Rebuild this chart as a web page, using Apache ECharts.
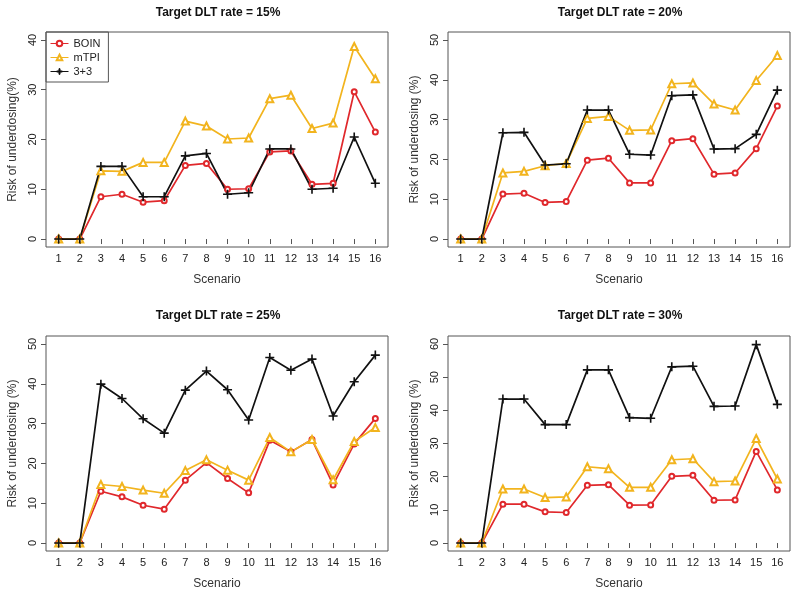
<!DOCTYPE html>
<html>
<head>
<meta charset="utf-8">
<script src="https://cdn.jsdelivr.net/npm/echarts@6/dist/echarts.min.js"></script>
<style>
html,body{margin:0;padding:0;background:#fff;}
#chart{width:800px;height:596px;}
</style>
</head>
<body>
<div id="chart"></div>
<script>
const scenarios = [1,2,3,4,5,6,7,8,9,10,11,12,13,14,15,16];
const panelTitles = ['Target DLT rate = 15%','Target DLT rate = 20%','Target DLT rate = 25%','Target DLT rate = 30%'];
const yAxisNames = ['Risk of underdosing(%)','Risk of underdosing (%)','Risk of underdosing (%)','Risk of underdosing (%)'];
const seriesNames = ['BOIN','mTPI','3+3'];
const yTicks15 = [0,10,20,30,40];
const yTicks20 = [0,10,20,30,40,50];
const yTicks25 = [0,10,20,30,40,50];
const yTicks30 = [0,10,20,30,40,50,60];

const boin15 = [0,0,8.5,9.0,7.4,7.7,14.8,15.2,10.0,10.1,17.5,17.7,11.0,11.2,29.6,21.5];
const mtpi15 = [0,0,13.7,13.6,15.4,15.4,23.7,22.7,20.1,20.3,28.2,28.9,22.2,23.3,38.7,32.2];
const tpt15  = [0,0,14.6,14.6,8.5,8.5,16.7,17.2,9.0,9.3,18.1,18.1,10.0,10.2,20.5,11.2];

const boin20 = [0,0,11.3,11.5,9.2,9.4,19.8,20.3,14.1,14.1,24.7,25.2,16.3,16.6,22.7,33.4];
const mtpi20 = [0,0,16.6,17.0,18.4,19.0,30.3,30.8,27.3,27.4,39.0,39.2,33.9,32.4,39.8,46.1];
const tpt20  = [0,0,26.7,26.8,18.6,18.9,32.4,32.4,21.3,21.1,36.0,36.2,22.6,22.7,26.3,37.4];

const boin25 = [0,0,13.0,11.6,9.5,8.5,15.8,20.2,16.2,12.6,25.8,22.9,26.0,14.6,24.9,31.3];
const mtpi25 = [0,0,14.7,14.2,13.3,12.5,18.2,20.9,18.3,15.8,26.5,22.9,26.0,15.9,25.5,29.0];
const tpt25  = [0,0,39.9,36.3,31.2,27.6,38.4,43.2,38.5,30.9,46.6,43.4,46.2,31.9,40.5,47.2];

const boin30 = [0,0,11.7,11.7,9.4,9.2,17.4,17.6,11.4,11.5,20.1,20.4,12.9,13.0,27.6,16.0];
const mtpi30 = [0,0,16.3,16.3,13.7,13.9,23.0,22.4,16.8,16.8,25.1,25.4,18.5,18.7,31.5,19.3];
const tpt30  = [0,0,43.4,43.4,35.7,35.7,52.2,52.2,37.8,37.6,53.1,53.3,41.2,41.3,59.8,41.8];

const panels = [
  {b: boin15, m: mtpi15, t: tpt15, ticks: yTicks15},
  {b: boin20, m: mtpi20, t: tpt20, ticks: yTicks20},
  {b: boin25, m: mtpi25, t: tpt25, ticks: yTicks25},
  {b: boin30, m: mtpi30, t: tpt30, ticks: yTicks30}
];

const FONT = "'Liberation Sans', Arial, Helvetica, sans-serif";
const RED = '#e0282c';
const ORANGE = '#f2b41e';
const BLACK = '#111111';
const BOX = '#555555';
const PLUS = 'path://M4.1,0h1.8v10h-1.8z M0,4.1h10v1.8h-10z';

const gridPos = [
  {left: 46, top: 32, width: 342, height: 215},
  {left: 448, top: 32, width: 342, height: 215},
  {left: 46, top: 336, width: 342, height: 215},
  {left: 448, top: 336, width: 342, height: 215}
];
const titlePos = [[218,7],[620,7],[218,310],[620,310]];

const toPairs = arr => scenarios.map((s, i) => [s, arr[i]]);

const grids = [], xAxes = [], yAxes = [], series = [], titles = [];
panels.forEach((p, k) => {
  grids.push(Object.assign({show: true, borderColor: BOX, borderWidth: 1, backgroundColor: 'transparent'}, gridPos[k]));
  const yMax = p.ticks[p.ticks.length - 1];
  const pad = yMax * 0.04;
  xAxes.push({
    type: 'value', gridIndex: k, min: 0.4, max: 16.6,
    name: 'Scenario', nameLocation: 'middle', nameGap: 27,
    nameTextStyle: {fontFamily: FONT, fontSize: 12, color: '#333'},
    axisLine: {show: false},
    splitLine: {show: false},
    axisTick: {show: true, length: 5, inside: false, customValues: scenarios, lineStyle: {color: BOX}},
    axisLabel: {customValues: scenarios, margin: 6, fontFamily: FONT, fontSize: 11, color: '#222'}
  });
  yAxes.push({
    type: 'value', gridIndex: k, min: -pad, max: yMax + pad,
    name: yAxisNames[k], nameLocation: 'middle', nameGap: 27,
    nameTextStyle: {fontFamily: FONT, fontSize: 12, color: '#333'},
    axisLine: {show: false},
    splitLine: {show: false},
    axisTick: {show: true, length: 5, customValues: p.ticks, lineStyle: {color: BOX}},
    axisLabel: {customValues: p.ticks, rotate: 90, margin: 8, fontFamily: FONT, fontSize: 11, color: '#222', align: 'center', verticalAlign: 'bottom'}
  });
  titles.push({
    text: panelTitles[k], left: titlePos[k][0], top: titlePos[k][1], textAlign: 'center', padding: 0,
    textStyle: {fontFamily: FONT, fontSize: 12, fontWeight: 'bold', color: '#111'}
  });
  const defs = [
    {name: 'BOIN', data: p.b, color: RED, symbol: 'emptyCircle', size: 5},
    {name: 'mTPI', data: p.m, color: ORANGE, symbol: 'emptyTriangle', size: 7},
    {name: '3+3', data: p.t, color: BLACK, symbol: PLUS, size: 9}
  ];
  defs.forEach(d => {
    series.push({
      name: d.name, type: 'line', xAxisIndex: k, yAxisIndex: k,
      data: toPairs(d.data),
      symbol: d.symbol, symbolSize: d.size, showAllSymbol: true,
      color: d.color,
      lineStyle: {color: d.color, width: 1.7},
      itemStyle: {color: d.color, borderColor: d.color, borderWidth: d.symbol === PLUS ? 0 : 1.3},
      emphasis: {disabled: true},
      animation: false,
      z: 2
    });
  });
});

const chart = echarts.init(document.getElementById('chart'), null, {renderer: 'canvas'});
chart.setOption({
  backgroundColor: '#fff',
  animation: false,
  title: titles,
  grid: grids,
  xAxis: xAxes,
  yAxis: yAxes,
  legend: {
    left: 46, top: 32, orient: 'vertical',
    data: seriesNames,
    borderColor: BOX, borderWidth: 1, borderRadius: 0,
    padding: [6, 8, 5, 4], itemGap: 3, itemWidth: 18, itemHeight: 7,
    lineStyle: {width: 1},
    itemStyle: {borderWidth: 1},
    textStyle: {fontFamily: FONT, fontSize: 11, color: '#222'},
    selectedMode: false
  },
  series: series
});
</script>
</body>
</html>
